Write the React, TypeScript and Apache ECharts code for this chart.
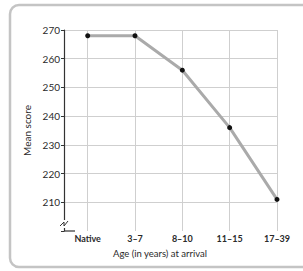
import React, { useEffect, useRef } from "react";
import * as echarts from "echarts";

const categories = ["Native", "3–7", "8–10", "11–15", "17–39"];
const meanScores = [268, 268, 256, 236, 211];
const yTickMin = 200;
const yTickMax = 270;
const yTickStep = 10;

export default function App() {
  const ref = useRef<HTMLDivElement>(null);
  useEffect(() => {
    if (!ref.current) return;
    const chart = echarts.init(ref.current, null, { renderer: "svg" });
    const font = "Lato";
    const option: any = {
      animation: false,
      backgroundColor: "#ffffff",
      textStyle: { fontFamily: font },
      grid: { left: 64, right: 26, top: 30, bottom: 40, containLabel: false },
      xAxis: {
        type: "value",
        min: -0.5,
        max: categories.length - 1,
        interval: 0.5,
        axisLine: { show: false, onZero: false },
        axisTick: { show: false },
        splitLine: { show: false },
        axisLabel: {
          margin: 3,
          fontFamily: font,
          fontSize: 9,
          fontWeight: "bold",
          color: "#2a2a2a",
          showMinLabel: true,
          showMaxLabel: true,
          formatter: (v: number) =>
            Number.isInteger(v) && v >= 0 ? categories[v] : "",
        },
      },
      yAxis: {
        type: "value",
        min: yTickMin,
        max: yTickMax,
        interval: yTickStep,
        name: "Mean score",
        nameLocation: "middle",
        nameGap: 30,
        nameTextStyle: { fontFamily: font, fontSize: 10, color: "#2a2a2a" },
        axisLine: { show: true, onZero: false, lineStyle: { color: "#333", width: 1.2 } },
        axisTick: { show: true, length: 3, lineStyle: { color: "#333" } },
        axisLabel: {
          margin: 4,
          fontFamily: font,
          fontSize: 10,
          color: "#2a2a2a",
          formatter: (v: number) => (v === yTickMin ? "" : String(v)),
        },
        splitLine: {
          show: true,
          showMinLine: false,
          lineStyle: { color: "#cfcfcf", width: 1 },
        },
      },
      graphic: [
        {
          type: "rect",
          z: -10,
          shape: { x: 10, y: 5, width: 320, height: 262, r: 9 },
          style: { fill: "none", stroke: "#c4c4c4", lineWidth: 2.5 },
        },
        {
          type: "rect",
          z: 100,
          shape: { x: 61, y: 220, width: 6, height: 8 },
          style: { fill: "#ffffff" },
        },
        {
          type: "polyline",
          z: 101,
          shape: { points: [[60, 226], [64, 222], [64, 226], [68, 221]] },
          style: { stroke: "#333", lineWidth: 1, fill: "none" },
        },
        {
          type: "line",
          z: 101,
          shape: { x1: 64, y1: 231, x2: 75, y2: 231 },
          style: { stroke: "#333", lineWidth: 1.2 },
        },
        {
          type: "text",
          z: 101,
          style: {
            x: 160,
            y: 253,
            text: "Age (in years) at arrival",
            fontFamily: font,
            fontSize: 9.5,
            fill: "#2a2a2a",
            align: "center",
            verticalAlign: "middle",
          },
        },
      ],
      series: [
        {
          type: "line",
          data: meanScores.map((v, i) => [i, v]),
          symbol: "circle",
          symbolSize: 5,
          itemStyle: { color: "#111" },
          lineStyle: { color: "#aaaaaa", width: 3 },
          z: 5,
          markLine: {
            silent: true,
            symbol: "none",
            label: { show: false },
            lineStyle: { color: "#cfcfcf", width: 1, type: "solid" },
            data: categories.map((_, i) => ({ xAxis: i })),
            z: 1,
          },
        },
      ],
    };
    chart.setOption(option);
    return () => chart.dispose();
  }, []);
  return (
    <div
      ref={ref}
      style={{ position: "absolute", left: 0, top: 0, width: 303, height: 271 }}
    />
  );
}
